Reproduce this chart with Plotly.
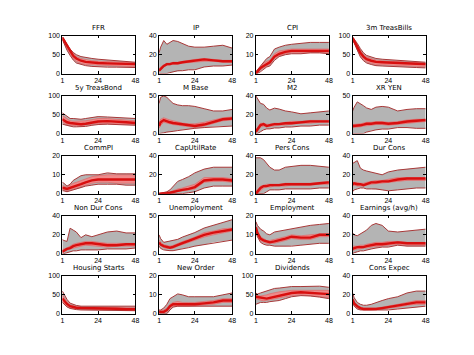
import plotly.graph_objects as go

# horizon points (months)
X = [1, 2, 4, 6, 8, 10, 13, 16, 20, 24, 30, 36, 42, 48]
XTICKS = [1, 24, 48]

TITLES = ["FFR", "IP", "CPI", "3m TreasBills",
          "5y TreasBond", "M Base", "M2", "XR YEN",
          "CommPI", "CapUtilRate", "Pers Cons", "Dur Cons",
          "Non Dur Cons", "Unemployment", "Employment", "Earnings (avg/h)",
          "Housing Starts", "New Order", "Dividends", "Cons Expec"]
YMAX = [100, 40, 20, 100,
        100, 50, 40, 50,
        20, 40, 40, 40,
        40, 50, 20, 40,
        100, 20, 100, 40]

# each panel: outer upper, inner upper, median, inner lower, outer lower
ffr_hi  = [97, 92, 78, 65, 56, 50, 45, 42, 40, 38, 36, 34, 32, 30]
ffr_phi = [96, 90, 75, 62, 52, 45, 40, 37, 34, 33, 32, 31, 30, 29]
ffr_med = [95, 88, 72, 58, 47, 40, 34, 31, 29, 28, 27, 26, 25, 25]
ffr_plo = [92, 84, 66, 52, 40, 32, 27, 24, 22, 21, 20, 20, 19, 18]
ffr_lo  = [90, 80, 62, 48, 36, 28, 24, 21, 19, 18, 17, 17, 16, 16]

ip_hi  = [22, 28, 35, 31, 33, 35, 34, 32, 29, 28, 28, 29, 30, 27]
ip_phi = [5, 7, 9, 11, 11, 12, 12, 13, 14, 15, 16, 15, 14, 14]
ip_med = [3, 5, 8, 10, 10, 11, 11, 12, 13, 14, 15, 14, 13, 13]
ip_plo = [2, 3, 7, 9, 9, 10, 10, 11, 12, 12, 13, 13, 12, 12]
ip_lo  = [0, 0, 0, 0, 1, 2, 3, 3, 4, 4, 7, 8, 8, 9]

cpi_hi  = [1, 2, 4, 6, 8, 9, 13, 14, 15, 15.5, 16, 16.5, 16.5, 16.5]
cpi_phi = [0.5, 1.5, 4, 5.5, 6.5, 7, 10.5, 12, 12.5, 13, 13, 13, 13, 13]
cpi_med = [0, 1, 3, 4, 5, 6, 9, 10.5, 11.5, 12, 12, 12, 12, 12]
cpi_plo = [0, 0.5, 2, 3, 4, 5, 8, 9.5, 10.5, 11, 11, 11, 11, 11]
cpi_lo  = [0, 0, 1, 2.5, 3.5, 4, 7, 9, 10, 10.5, 10.5, 11, 11, 10.5]

tb3_hi  = [97, 92, 80, 66, 55, 48, 43, 40, 38, 37, 36, 34, 32, 30]
tb3_phi = [96, 90, 76, 62, 50, 44, 39, 36, 34, 33, 31, 30, 29, 28]
tb3_med = [94, 87, 70, 55, 45, 38, 34, 31, 30, 29, 28, 27, 26, 25]
tb3_plo = [92, 83, 64, 48, 38, 31, 27, 24, 23, 22, 21, 20, 19, 18]
tb3_lo  = [90, 80, 60, 44, 34, 28, 24, 21, 20, 19, 18, 17, 16, 15]

tb5_hi  = [55, 52, 44, 40, 40, 39, 38, 40, 43, 45, 44, 43, 41, 40]
tb5_phi = [48, 45, 38, 34, 33, 33, 33, 34, 37, 40, 40, 38, 36, 34]
tb5_med = [38, 35, 30, 28, 27, 26, 25, 26, 30, 32, 33, 32, 30, 28]
tb5_plo = [30, 28, 24, 22, 21, 21, 21, 22, 25, 27, 28, 27, 25, 24]
tb5_lo  = [25, 24, 21, 19, 18, 18, 18, 19, 22, 24, 25, 24, 23, 22]

mb_hi  = [40, 48, 50, 48, 44, 40, 38, 37, 37, 36, 33, 30, 30, 32]
mb_phi = [14, 19, 21, 19, 18, 17, 15, 14, 13, 13, 15, 18, 21, 22]
mb_med = [10, 15, 18, 16, 15, 14, 13, 12, 11, 10, 12, 15, 19, 20]
mb_plo = [7, 11, 15, 14, 13, 12, 11, 10, 9, 8, 10, 13, 17, 18]
mb_lo  = [0, 0, 1, 2, 2, 3, 4, 5, 6, 7, 8, 9, 10, 10]

m2_hi  = [40, 37, 32, 31, 27, 25, 27, 26, 24, 23, 21, 22, 23, 24]
m2_phi = [4, 6, 11, 11, 10, 10, 11, 11, 12, 13, 13, 14, 14, 14]
m2_med = [2, 4, 9, 10, 8, 9, 10, 10, 11, 11, 12, 13, 13, 13]
m2_plo = [1, 2, 7, 8, 7, 7, 8, 9, 9, 10, 11, 11, 12, 12]
m2_lo  = [0, 0, 2, 4, 5, 5, 6, 6, 7, 7, 8, 8, 9, 9]

yen_hi  = [30, 35, 42, 40, 37, 34, 32, 35, 36, 35, 30, 32, 33, 33]
yen_phi = [12, 12, 13, 13, 14, 15, 15, 16, 16, 15, 16, 18, 19, 19]
yen_med = [10, 10, 11, 11, 12, 13, 13, 14, 14, 13, 14, 16, 17, 18]
yen_plo = [8, 8, 9, 9, 10, 11, 11, 12, 12, 11, 12, 14, 15, 16]
yen_lo  = [0, 0, 0, 0, 0, 2, 4, 5, 6, 6, 8, 8, 7, 7]

cpi2_hi  = [6, 5.5, 4, 5, 7, 8, 9.5, 10, 10, 10, 11, 10.5, 10.5, 10.5]
cpi2_phi = [4.5, 4, 3.5, 4.5, 5.5, 6, 7, 8, 9, 9.5, 10, 10, 10, 10]
cpi2_med = [3, 3, 2.5, 3, 3.5, 4, 5, 6, 7, 7.5, 7.5, 7.5, 7.5, 7.5]
cpi2_plo = [2, 2, 1.5, 2, 2.5, 3, 3.5, 4.5, 5.5, 6, 6, 5.5, 5.5, 5.5]
cpi2_lo  = [1.5, 1.5, 1, 1.5, 2, 2.5, 3, 4, 4.5, 5, 5, 5, 4.5, 4.5]

cu_hi  = [0, 0.5, 1, 2, 4, 8, 13, 15, 18, 22, 26, 28, 28, 28]
cu_phi = [0, 0.3, 0.5, 1, 2, 3, 5, 6, 8, 10, 17, 17, 17, 16]
cu_med = [0, 0, 0, 0.5, 1, 2, 3, 4, 5, 7, 14, 15, 15, 14]
cu_plo = [0, 0, 0, 0, 0.5, 1, 2, 3, 4, 5, 12, 13, 13, 12]
cu_lo  = [0, 0, 0, 0, 0, 0, 0, 0, 1, 2, 6, 8, 8, 8]

pc_hi  = [38, 38, 38, 36, 32, 28, 25, 25, 28, 29, 30, 30, 29, 28]
pc_phi = [2, 4, 8, 9, 10, 10, 10, 10, 11, 11, 11, 11, 12, 13]
pc_med = [0, 2, 6, 8, 8, 9, 9, 9, 10, 10, 10, 10, 11, 12]
pc_plo = [0, 0, 3, 6, 7, 7, 8, 8, 8, 9, 9, 9, 10, 10]
pc_lo  = [0, 0, 0, 0, 2, 4, 4, 4, 5, 5, 5, 5, 6, 6]

dc_hi  = [32, 33, 35, 27, 25, 24, 23, 22, 20, 23, 25, 26, 27, 28]
dc_phi = [12, 12, 12, 11, 11, 12, 13, 14, 14, 15, 17, 17, 17, 17]
dc_med = [10, 11, 10, 10, 9, 10, 12, 12, 13, 13, 15, 16, 16, 16]
dc_plo = [8, 9, 8, 8, 8, 9, 10, 11, 11, 12, 13, 14, 14, 14]
dc_lo  = [2, 4, 5, 6, 6, 5, 5, 5, 4, 3, 4, 5, 6, 6]

ndc_hi  = [15, 14, 13, 27, 25, 23, 17, 20, 18, 20, 23, 24, 22, 22]
ndc_phi = [4, 5, 6, 8, 10, 11, 12, 13, 13, 12, 11, 11, 11, 11]
ndc_med = [2, 3, 5, 6, 8, 9, 10, 11, 11, 10, 9, 9, 10, 10]
ndc_plo = [1, 2, 4, 5, 6, 7, 8, 9, 9, 8, 7, 8, 8, 8]
ndc_lo  = [0, 0, 1, 2, 3, 3, 4, 4, 4, 4, 5, 5, 5, 6]

un_hi  = [25, 20, 15, 16, 16, 17, 19, 22, 25, 28, 34, 38, 42, 45]
un_phi = [18, 15, 12, 11, 10, 11, 14, 16, 19, 22, 28, 30, 33, 34]
un_med = [15, 12, 10, 9, 8, 9, 12, 14, 17, 20, 25, 28, 30, 32]
un_plo = [12, 10, 8, 7, 7, 7, 10, 12, 15, 18, 22, 25, 28, 30]
un_lo  = [10, 7, 5, 4, 4, 4, 5, 7, 8, 10, 12, 15, 17, 18]

em_hi  = [17, 15, 13, 12, 10.5, 10, 11.5, 12, 12.5, 13, 14, 15, 15.5, 16]
em_phi = [15, 12, 9, 8, 7, 7, 7.5, 8, 9, 10, 9.5, 10, 10.5, 10.5]
em_med = [14, 11, 8, 7, 6.5, 6, 6.5, 7, 8, 9, 8.5, 8.5, 10, 10]
em_plo = [13, 10, 7, 6, 5.5, 5.5, 5.5, 6, 7, 8, 7.5, 7.5, 9, 9]
em_lo  = [12, 9, 6, 5, 4.5, 4.5, 4, 4, 4, 4, 4.5, 5, 5.5, 5.5]

ea_hi  = [22, 20, 19, 21, 23, 25, 30, 32, 30, 24, 23, 24, 25, 26]
ea_phi = [8, 8, 8, 9, 9, 10, 11, 12, 12, 13, 13, 12, 12, 12]
ea_med = [5, 6, 7, 7, 7, 8, 9, 10, 10, 11, 12, 11, 11, 11]
ea_plo = [3, 4, 5, 5, 6, 6, 7, 8, 8, 9, 10, 9, 9, 9]
ea_lo  = [0, 1, 2, 3, 3, 4, 5, 6, 7, 7, 9, 8, 8, 8]

hs_hi  = [60, 52, 38, 28, 24, 22, 20, 20, 20, 20, 20, 20, 20, 20]
hs_phi = [50, 44, 32, 24, 21, 19, 18, 17, 17, 17, 17, 16, 16, 16]
hs_med = [40, 35, 26, 20, 17, 16, 15, 15, 15, 14, 13, 13, 12, 12]
hs_plo = [32, 28, 20, 16, 14, 13, 12, 12, 12, 11, 10, 10, 10, 10]
hs_lo  = [30, 25, 18, 14, 12, 11, 10, 10, 10, 9, 9, 8, 8, 8]

no_hi  = [2, 2, 3, 5, 8, 9, 10.5, 10, 9, 9, 9, 9, 10, 11]
no_phi = [1.5, 1.5, 2, 3, 5, 6, 6.5, 6, 6, 6, 6.5, 7, 8, 8]
no_med = [1, 1, 1, 2, 4, 5, 5, 5, 5, 5, 5.5, 6, 7, 7]
no_plo = [0.5, 0.5, 0.5, 1, 3, 4, 4, 4, 4, 4, 4.5, 5, 6, 6]
no_lo  = [0, 0, 0, 0, 2, 3.5, 4, 4, 4, 4, 4, 4, 4, 4]

dv_hi  = [55, 52, 55, 58, 60, 64, 67, 68, 70, 72, 72, 72, 73, 70]
dv_phi = [50, 48, 47, 48, 50, 53, 56, 58, 60, 62, 62, 62, 62, 62]
dv_med = [45, 44, 42, 40, 40, 42, 45, 48, 52, 55, 57, 56, 54, 52]
dv_plo = [40, 38, 36, 34, 35, 37, 40, 42, 45, 48, 50, 48, 45, 43]
dv_lo  = [25, 27, 30, 30, 30, 32, 34, 35, 40, 45, 48, 47, 44, 40]

ce_hi  = [22, 17, 12, 10, 9, 9, 10, 12, 14, 16, 18, 22, 24, 24]
ce_phi = [17, 13, 9, 7, 6, 6, 6, 6, 7, 8, 10, 12, 14, 14]
ce_med = [15, 11, 8, 6, 5, 5, 5, 5, 6, 7, 9, 10, 12, 12]
ce_plo = [13, 9, 6, 5, 4, 4, 4, 4, 5, 6, 7, 9, 10, 10]
ce_lo  = [12, 8, 5, 4, 4, 4, 4, 4, 4, 4, 5, 6, 7, 8]

PANELS = [
    (ffr_hi, ffr_phi, ffr_med, ffr_plo, ffr_lo),
    (ip_hi, ip_phi, ip_med, ip_plo, ip_lo),
    (cpi_hi, cpi_phi, cpi_med, cpi_plo, cpi_lo),
    (tb3_hi, tb3_phi, tb3_med, tb3_plo, tb3_lo),
    (tb5_hi, tb5_phi, tb5_med, tb5_plo, tb5_lo),
    (mb_hi, mb_phi, mb_med, mb_plo, mb_lo),
    (m2_hi, m2_phi, m2_med, m2_plo, m2_lo),
    (yen_hi, yen_phi, yen_med, yen_plo, yen_lo),
    (cpi2_hi, cpi2_phi, cpi2_med, cpi2_plo, cpi2_lo),
    (cu_hi, cu_phi, cu_med, cu_plo, cu_lo),
    (pc_hi, pc_phi, pc_med, pc_plo, pc_lo),
    (dc_hi, dc_phi, dc_med, dc_plo, dc_lo),
    (ndc_hi, ndc_phi, ndc_med, ndc_plo, ndc_lo),
    (un_hi, un_phi, un_med, un_plo, un_lo),
    (em_hi, em_phi, em_med, em_plo, em_lo),
    (ea_hi, ea_phi, ea_med, ea_plo, ea_lo),
    (hs_hi, hs_phi, hs_med, hs_plo, hs_lo),
    (no_hi, no_phi, no_med, no_plo, no_lo),
    (dv_hi, dv_phi, dv_med, dv_plo, dv_lo),
    (ce_hi, ce_phi, ce_med, ce_plo, ce_lo),
]

W, H = 474, 355
OFF = 8  # page body margin
COL_LEFT, COL_W, COL_STEP = 61 - OFF, 74, 98
ROW_TOP, ROW_H, ROW_STEP = 32.3 - OFF, 38.5, 61.25

GRAY = "#b4b4b4"
PINK = "#ee8a8a"
EDGE = "#a83838"
MED = "#d80f0f"
FONT = "Liberation Sans"
TFONT = "DejaVu Sans"

fig = go.Figure()
layout = {}
annotations = []
for i, (hi, phi, med, plo, lo) in enumerate(PANELS):
    r, c = divmod(i, 4)
    n = i + 1
    xa = "x" if n == 1 else f"x{n}"
    ya = "y" if n == 1 else f"y{n}"
    x0 = COL_LEFT + c * COL_STEP
    top = ROW_TOP + r * ROW_STEP
    xd = [x0 / W, (x0 + COL_W) / W]
    yd = [1 - (top + ROW_H) / H, 1 - top / H]
    ymax = YMAX[i]
    yt = [0, ymax // 2, ymax] if ymax != 50 else [0, 50]

    # outer band
    fig.add_trace(go.Scatter(x=X + X[::-1], y=hi + lo[::-1], fill="toself",
                             fillcolor=GRAY, line=dict(width=0), mode="lines",
                             hoverinfo="skip", showlegend=False, xaxis=xa, yaxis=ya))
    # inner band
    fig.add_trace(go.Scatter(x=X + X[::-1], y=phi + plo[::-1], fill="toself",
                             fillcolor=PINK, line=dict(width=0.6, color="#e06060"),
                             mode="lines", hoverinfo="skip", showlegend=False,
                             xaxis=xa, yaxis=ya))
    for s in (hi, lo):
        fig.add_trace(go.Scatter(x=X, y=s, mode="lines", line=dict(color=EDGE, width=1),
                                 showlegend=False, xaxis=xa, yaxis=ya))
    fig.add_trace(go.Scatter(x=X, y=med, mode="lines", line=dict(color=MED, width=2.4),
                             showlegend=False, xaxis=xa, yaxis=ya))

    axcommon = dict(showline=True, linecolor="black", linewidth=1, mirror="ticks",
                    ticks="inside", ticklen=2.5, tickcolor="black", showgrid=False,
                    zeroline=False, tickfont=dict(family=FONT, size=7, color="black"))
    layout["xaxis" if n == 1 else f"xaxis{n}"] = dict(
        domain=xd, range=[1, 48], tickvals=XTICKS, anchor=ya, ticklabelstandoff=0,
        **axcommon)
    layout["yaxis" if n == 1 else f"yaxis{n}"] = dict(
        domain=yd, range=[0, ymax], tickvals=yt, anchor=xa, **axcommon)
    annotations.append(dict(text=TITLES[i], x=(xd[0] + xd[1]) / 2, y=yd[1],
                            xref="paper", yref="paper", xanchor="center", yanchor="middle",
                            yshift=8, showarrow=False, borderpad=0,
                            font=dict(family=TFONT, size=7, color="black")))

fig.update_layout(width=W, height=H, margin=dict(l=0, r=0, t=0, b=0),
                  paper_bgcolor="white", plot_bgcolor="white",
                  annotations=annotations, **layout)
fig.write_html("out.html")
